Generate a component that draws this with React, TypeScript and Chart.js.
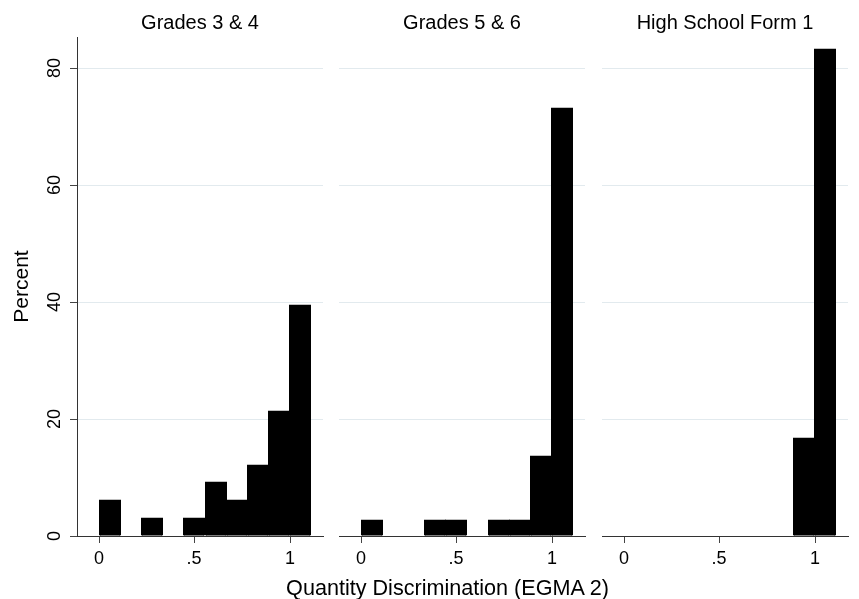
import React, { useEffect, useRef } from 'react';
import { Chart, registerables } from 'chart.js';

Chart.register(...registerables);

// ---- data ----
const binCenters = [0.0556, 0.1667, 0.2778, 0.3889, 0.5, 0.6111, 0.7222, 0.8333, 0.9444, 1.0556];
const panelTitles = ['Grades 3 & 4', 'Grades 5 & 6', 'High School Form 1'];
const grades34 = [6.2, 0, 3.1, 0, 3.1, 9.2, 6.2, 12.2, 21.3, 39.5];
const grades56 = [2.8, 0, 0, 2.8, 2.8, 0, 2.8, 2.8, 13.6, 73.1];
const highSchool = [0, 0, 0, 0, 0, 0, 0, 0, 16.7, 83.3];
const xTicks = [0, 0.5, 1];
const xTickLabels = ['0', '.5', '1'];
const yTicks = [0, 20, 40, 60, 80];
const yTickLabels = ['0', '20', '40', '60', '80'];
const yAxisTitle = 'Percent';
const xAxisTitle = 'Quantity Discrimination (EGMA 2)';

const FONT = "'Liberation Sans', Arial, Helvetica, sans-serif";
const GRID = 'rgb(226,234,238)';
const AXIS = '#333';

type PanelSpec = {
  title: string;
  values: number[];
  left: number;
  width: number;
  padLeft: number;
  padRight: number;
  showY: boolean;
};

const panels: PanelSpec[] = [
  { title: panelTitles[0], values: grades34, left: 0, width: 331, padLeft: 0, padRight: 8, showY: true },
  { title: panelTitles[1], values: grades56, left: 331, width: 262, padLeft: 8, padRight: 8, showY: false },
  { title: panelTitles[2], values: highSchool, left: 593, width: 266, padLeft: 9, padRight: 11, showY: false },
];

function Panel({ spec }: { spec: PanelSpec }) {
  const ref = useRef<HTMLCanvasElement | null>(null);
  useEffect(() => {
    if (!ref.current) return;
    Chart.defaults.font.family = FONT;
    Chart.defaults.color = '#000';
    const chart = new Chart(ref.current, {
      type: 'bar',
      data: {
        datasets: [
          {
            data: binCenters.map((x, i) => ({ x, y: spec.values[i] })),
            backgroundColor: '#000',
            borderColor: '#000',
            borderWidth: 1,
            inflateAmount: 0.5,
            barPercentage: 1,
            categoryPercentage: 1,
          } as any,
        ],
      },
      options: {
        animation: false,
        responsive: false,
        events: [],
        layout: { padding: { left: spec.padLeft, right: spec.padRight, top: 0, bottom: 0 } },
        plugins: {
          legend: { display: false },
          tooltip: { enabled: false },
          title: {
            display: true,
            fullSize: false,
            text: spec.title,
            color: '#000',
            font: { size: 20, weight: 'normal', family: FONT },
            padding: { top: 11, bottom: 2 },
          },
        },
        scales: {
          x: {
            type: 'linear',
            min: -0.117,
            max: 1.175,
            offset: false,
            alignToPixels: true,
            afterBuildTicks: (s: any) => {
              s.ticks = xTicks.map((v) => ({ value: v }));
            },
            afterFit: (s: any) => {
              s.height = 63;
            },
            ticks: {
              autoSkip: false,
              maxRotation: 0,
              padding: 5,
              color: '#000',
              font: { size: 18, family: FONT },
              callback: (v: any) => {
                const i = xTicks.indexOf(Number(v));
                return i >= 0 ? xTickLabels[i] : '';
              },
            },
            grid: {
              drawOnChartArea: false,
              drawTicks: true,
              tickLength: 7,
              tickColor: '#444',
              offset: false,
            },
            border: { display: true, color: AXIS, width: 1 },
          },
          y: {
            type: 'linear',
            min: 0,
            max: 85.3,
            alignToPixels: true,
            afterBuildTicks: (s: any) => {
              s.ticks = yTicks.map((v) => ({ value: v }));
            },
            afterFit: (s: any) => {
              s.width = spec.showY ? 77 : 0;
            },
            ticks: {
              display: spec.showY,
              minRotation: 90,
              maxRotation: 90,
              crossAlign: 'center',
              padding: 5,
              color: '#000',
              font: { size: 18, family: FONT },
              callback: (v: any) => {
                const i = yTicks.indexOf(Number(v));
                return i >= 0 ? yTickLabels[i] : '';
              },
            },
            grid: {
              color: (ctx: any) => (ctx.tick && ctx.tick.value === 0 ? 'rgba(0,0,0,0)' : GRID),
              lineWidth: 1,
              drawTicks: spec.showY,
              tickLength: 7,
              tickColor: '#444',
            },
            border: { display: spec.showY, color: AXIS, width: 1 },
            title: {
              display: spec.showY,
              text: yAxisTitle,
              color: '#000',
              font: { size: 21, family: FONT },
              padding: { top: 10, bottom: 0 },
            },
          },
        },
      } as any,
    });
    return () => chart.destroy();
  }, [spec]);
  return (
    <canvas
      ref={ref}
      width={spec.width}
      height={599}
      style={{ position: 'absolute', left: spec.left, top: 0, width: spec.width, height: 599, display: 'block' }}
    />
  );
}

export default function App() {
  return (
    <div style={{ position: 'absolute', left: 0, top: 0, width: 859, height: 599, background: '#fff', overflow: 'hidden' }}>
      {panels.map((p, i) => (
        <Panel key={i} spec={p} />
      ))}
      <div
        style={{
          position: 'absolute',
          left: 247.5,
          width: 400,
          top: 575,
          textAlign: 'center',
          fontFamily: FONT,
          fontSize: '21.6px',
          lineHeight: '25px',
          color: '#000',
          whiteSpace: 'nowrap',
        }}
      >
        {xAxisTitle}
      </div>
    </div>
  );
}
